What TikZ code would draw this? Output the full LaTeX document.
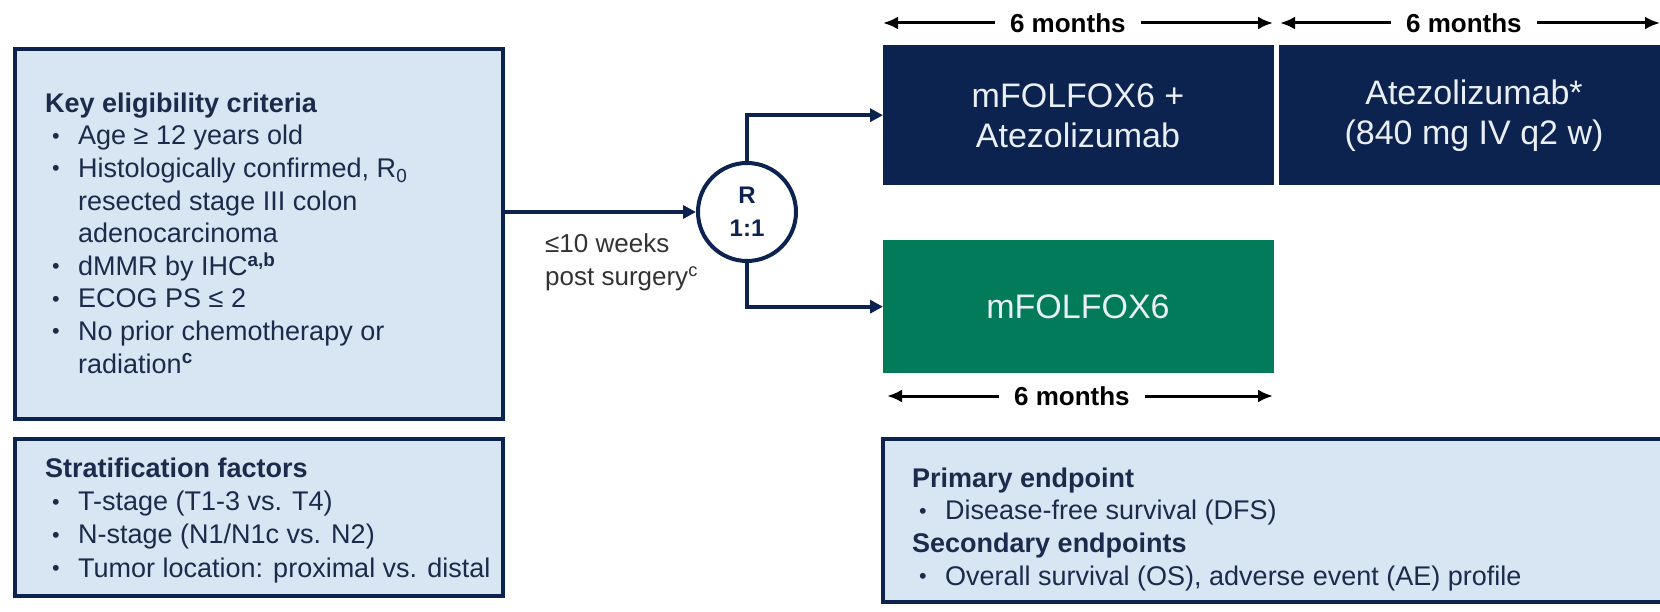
\documentclass[tikz,border=0pt]{standalone}
\usepackage{fontspec}
\setmainfont{Liberation Sans}
\usepackage{graphicx}
\usetikzlibrary{arrows.meta}
\definecolor{navy}{HTML}{0C2350}
\definecolor{trgreen}{HTML}{027B5A}
\definecolor{lightfill}{HTML}{D8E5F3}
\definecolor{bodytext}{HTML}{1C2B4B}
\definecolor{graytext}{HTML}{333333}
\definecolor{boxtext}{HTML}{E9EFF5}
\newcommand{\bul}{\makebox[33pt][l]{\hspace{7pt}\raisebox{1.5pt}{\scalebox{0.8}{\textbullet}}}}
\newcommand{\ind}{\hspace*{33pt}}
\begin{document}
\begin{tikzpicture}[x=1pt,y=-1pt,
  lightbox/.style={draw=navy,line width=4pt,fill=lightfill,inner sep=0pt,anchor=north west},
  armbox/.style={inner sep=0pt,anchor=north west,text=boxtext,align=center,
    font=\fontsize{34}{40}\selectfont},
  bodytxt/.style={inner sep=0pt,anchor=north west,align=left,text=bodytext},
  conn/.style={draw=navy,line width=4pt,-{Triangle[length=13pt,width=13pt]}},
  timearrow/.style={draw=black,line width=3pt,{Latex[length=15pt,width=13pt]}-{Latex[length=15pt,width=13pt]}},
  timelabel/.style={fill=white,inner xsep=15pt,inner ysep=2pt,text=black,
    font=\bfseries\fontsize{26}{30}\selectfont}]
\useasboundingbox (0,0) rectangle (1660,612);
\clip (0,0) rectangle (1660,612);
\fill[white] (0,0) rectangle (1660,612);

% left boxes
\node[lightbox,minimum width=488pt,minimum height=370pt] (elig) at (13,47) {};
\node[lightbox,minimum width=488pt,minimum height=157pt] (strat) at (13,437) {};
\node[bodytxt,font=\fontsize{27}{32.6}\selectfont] (eligtxt) at (45,92)
 {\rule{0pt}{20pt}\textbf{Key eligibility criteria}\\
  \bul Age ≥ 12 years old\\
  \bul Histologically confirmed, R\textsubscript{0}\\
  \ind resected stage III colon\\
  \ind adenocarcinoma\\
  \bul dMMR by IHC\textsuperscript{\textbf{a,b}}\\
  \bul ECOG PS ≤ 2\\
  \bul No prior chemotherapy or\\
  \ind radiation\textsuperscript{\textbf{c}}};
\node[bodytxt,font=\fontsize{27}{33.3}\selectfont] (strattxt) at (45,457)
 {\rule{0pt}{20pt}\textbf{Stratification factors}\\
  \bul T-stage (T1-3 vs. T4)\\
  \bul N-stage (N1/N1c vs. N2)\\
  \bul Tumor location: proximal vs. distal};

% randomisation
\node[circle,draw=navy,line width=4pt,fill=white,minimum size=98pt,inner sep=0pt,
  align=center,text=navy,font=\bfseries\fontsize{24}{33}\selectfont] (circ) at (747,212)
  {\raisebox{-3pt}{R}\\\raisebox{-3pt}{1:1}};
\node[inner sep=0pt,anchor=north west,align=left,text=graytext,
  font=\fontsize{26}{33}\selectfont] (weeks) at (545,232)
  {\rule{0pt}{20pt}≤10 weeks\\post surgery\textsuperscript{c}};

% arms
\node[armbox,fill=navy,minimum width=391pt,minimum height=140pt] (arm1) at (883,45) {};
\node[text=boxtext,align=center,font=\fontsize{34}{40}\selectfont] (arm1txt) at (1078,116) {mFOLFOX6 +\\Atezolizumab};
\node[armbox,fill=navy,minimum width=400pt,minimum height=140pt] (arm2) at (1279,45) {};
\node[text=boxtext,align=center,font=\fontsize{34}{40}\selectfont] (arm2txt) at (1474,116) {Atezolizumab*\\(840 mg IV q2 w)};
\node[armbox,fill=trgreen,minimum width=391pt,minimum height=133pt] (arm3) at (883,240) {};
\node[text=boxtext,font=\fontsize{34}{40}\selectfont] (arm3txt) at (1078,307) {mFOLFOX6};

% connectors
\draw[conn] (elig.east |- circ.west) -- (circ.west);
\draw[conn] (circ.north) |- (arm1.west);
\draw[conn] (circ.south) |- (arm3.west);

% time arrows
\coordinate (t1a) at (883,23);
\coordinate (t1b) at (1273,23);
\coordinate (t2a) at (1280,23);
\coordinate (t2b) at (1660,23);
\coordinate (t3a) at (887,396);
\coordinate (t3b) at (1273,396);
\draw[timearrow] (t1a) -- (t1b) node[timelabel,pos=0.474] (tl1) {6 months};
\draw[timearrow] (t2a) -- (t2b) node[timelabel,pos=0.484] (tl2) {6 months};
\draw[timearrow] (t3a) -- (t3b) node[timelabel,pos=0.479] (tl3) {6 months};

% endpoints
\node[lightbox,minimum width=820pt,minimum height=163pt] (endp) at (881,437) {};
\node[bodytxt,font=\fontsize{27}{32.7}\selectfont] (endptxt) at (912,467)
 {\rule{0pt}{20pt}\textbf{Primary endpoint}\\
  \bul Disease-free survival (DFS)\\
  \textbf{Secondary endpoints}\\
  \bul Overall survival (OS), adverse event (AE) profile};
\end{tikzpicture}
\end{document}
